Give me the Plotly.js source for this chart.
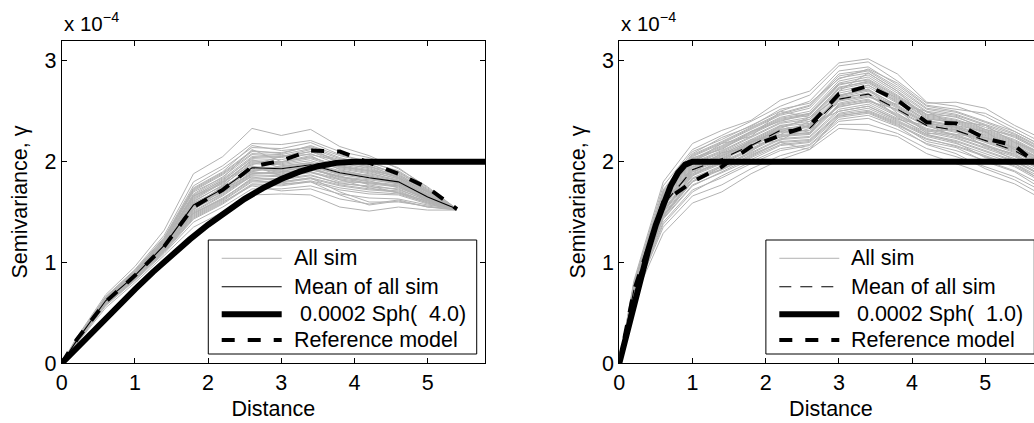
<!DOCTYPE html>
<html>
<head>
<meta charset="utf-8">
<script src="https://cdn.plot.ly/plotly-3.0.1.min.js"></script>
<style>
  html, body { margin: 0; padding: 0; background: #ffffff; overflow: hidden; }
  #chart { width: 1100px; height: 423px; }
</style>
</head>
<body>
<div id="chart"></div>
<script>
// ---------- DATA (semivariance values in units of 1e-4) ----------
const SCALE = 1e-4;

const lagsLeft  = [0, 0.2, 0.6, 1.0, 1.4, 1.8, 2.2, 2.6, 3.0, 3.4, 3.8, 4.2, 4.6, 5.0, 5.4];
const lagsRight = [0, 0.2, 0.6, 1.0, 1.4, 1.8, 2.2, 2.6, 3.0, 3.4, 3.8, 4.2, 4.6, 5.0, 5.4, 5.8];

// Left panel: all simulations
const simsLeft = [
  [0, .25, .68, .96, 1.32, 1.88, 2.05, 2.33, 2.26, 2.32, 2.15, 2.06, 1.93, 1.75, 1.53],
  [0, .24, .66, .93, 1.27, 1.80, 1.96, 2.18, 2.17, 2.21, 2.10, 2.04, 1.94, 1.74, 1.53],
  [0, .23, .65, .92, 1.25, 1.76, 1.93, 2.14, 2.13, 2.19, 2.07, 2.00, 1.90, 1.72, 1.52],
  [0, .23, .64, .90, 1.23, 1.72, 1.88, 2.10, 2.09, 2.15, 2.04, 1.97, 1.88, 1.70, 1.53],
  [0, .22, .64, .89, 1.21, 1.68, 1.85, 2.07, 2.05, 2.12, 2.00, 1.95, 1.86, 1.69, 1.52],
  [0, .22, .63, .89, 1.20, 1.65, 1.82, 2.03, 2.02, 2.08, 1.97, 1.92, 1.85, 1.68, 1.53],
  [0, .22, .63, .88, 1.19, 1.62, 1.79, 2.00, 1.99, 2.05, 1.95, 1.90, 1.83, 1.67, 1.52],
  [0, .22, .62, .88, 1.18, 1.60, 1.77, 1.98, 1.97, 2.01, 1.93, 1.88, 1.82, 1.66, 1.53],
  [0, .21, .62, .87, 1.17, 1.58, 1.74, 1.95, 1.94, 1.98, 1.90, 1.85, 1.80, 1.65, 1.52],
  [0, .21, .61, .86, 1.16, 1.55, 1.71, 1.92, 1.91, 1.95, 1.87, 1.83, 1.79, 1.64, 1.53],
  [0, .21, .61, .86, 1.15, 1.53, 1.69, 1.89, 1.88, 1.92, 1.85, 1.80, 1.77, 1.63, 1.52],
  [0, .21, .60, .85, 1.14, 1.50, 1.66, 1.86, 1.85, 1.89, 1.82, 1.78, 1.75, 1.62, 1.53],
  [0, .20, .60, .84, 1.13, 1.48, 1.63, 1.83, 1.82, 1.86, 1.79, 1.75, 1.73, 1.61, 1.52],
  [0, .20, .59, .84, 1.12, 1.46, 1.61, 1.80, 1.79, 1.83, 1.76, 1.72, 1.70, 1.60, 1.53],
  [0, .20, .58, .83, 1.10, 1.43, 1.58, 1.77, 1.76, 1.80, 1.72, 1.68, 1.67, 1.58, 1.52],
  [0, .20, .57, .82, 1.09, 1.40, 1.55, 1.73, 1.73, 1.76, 1.68, 1.64, 1.63, 1.57, 1.53],
  [0, .19, .55, .80, 1.07, 1.35, 1.50, 1.67, 1.68, 1.67, 1.55, 1.51, 1.55, 1.52, 1.52],
  [0, .23, .65, .90, 1.22, 1.70, 1.84, 2.12, 2.00, 2.06, 1.92, 1.86, 1.78, 1.66, 1.53],
  [0, .21, .63, .88, 1.18, 1.63, 1.80, 1.97, 2.05, 2.10, 2.02, 1.96, 1.84, 1.70, 1.52],
  [0, .22, .61, .86, 1.19, 1.54, 1.76, 1.90, 1.96, 1.99, 1.95, 1.91, 1.86, 1.71, 1.53],
  [0, .21, .60, .85, 1.15, 1.57, 1.70, 1.85, 1.80, 1.84, 1.70, 1.60, 1.60, 1.56, 1.52],
  [0, .22, .64, .88, 1.20, 1.66, 1.78, 2.02, 1.94, 1.95, 1.82, 1.74, 1.69, 1.61, 1.53],
  [0, .20, .59, .85, 1.14, 1.52, 1.72, 1.88, 1.90, 1.96, 1.88, 1.87, 1.81, 1.67, 1.52],
  [0, .21, .62, .87, 1.16, 1.59, 1.73, 1.96, 1.86, 1.90, 1.80, 1.79, 1.76, 1.63, 1.53],
  [0, .24, .66, .92, 1.24, 1.74, 1.90, 2.16, 2.11, 2.14, 1.98, 1.94, 1.84, 1.70, 1.52],
  [0, .20, .58, .83, 1.11, 1.45, 1.60, 1.76, 1.71, 1.73, 1.63, 1.58, 1.62, 1.55, 1.53],
  [0, .21, .60, .85, 1.13, 1.49, 1.64, 1.82, 1.78, 1.80, 1.67, 1.57, 1.61, 1.55, 1.52],
  [0, .22, .63, .89, 1.21, 1.67, 1.83, 2.05, 2.04, 2.10, 1.99, 1.93, 1.84, 1.68, 1.52],
  [0, .22, .62, .87, 1.17, 1.61, 1.76, 1.99, 1.98, 2.03, 1.94, 1.89, 1.81, 1.66, 1.53],
  [0, .21, .61, .86, 1.15, 1.56, 1.72, 1.93, 1.92, 1.96, 1.88, 1.84, 1.78, 1.64, 1.52],
  [0, .21, .60, .85, 1.13, 1.51, 1.67, 1.87, 1.86, 1.90, 1.83, 1.79, 1.76, 1.62, 1.53],
  [0, .20, .59, .84, 1.12, 1.47, 1.62, 1.81, 1.80, 1.84, 1.77, 1.73, 1.71, 1.60, 1.52],
  [0, .23, .64, .90, 1.22, 1.71, 1.87, 2.08, 2.07, 2.13, 2.03, 1.98, 1.87, 1.71, 1.53],
  [0, .22, .63, .88, 1.20, 1.64, 1.80, 2.01, 2.00, 2.04, 1.96, 1.91, 1.83, 1.67, 1.52],
  [0, .21, .61, .87, 1.16, 1.57, 1.75, 1.91, 1.95, 1.99, 1.91, 1.86, 1.80, 1.65, 1.53],
  [0, .22, .62, .86, 1.18, 1.59, 1.72, 1.94, 1.89, 1.93, 1.84, 1.81, 1.74, 1.63, 1.52],
  [0, .21, .60, .85, 1.14, 1.53, 1.68, 1.88, 1.90, 1.92, 1.86, 1.77, 1.72, 1.62, 1.53],
  [0, .20, .59, .84, 1.12, 1.49, 1.63, 1.84, 1.83, 1.87, 1.78, 1.76, 1.69, 1.59, 1.52],
  [0, .22, .64, .89, 1.21, 1.66, 1.81, 2.04, 2.06, 2.07, 2.01, 1.95, 1.89, 1.72, 1.53],
  [0, .23, .65, .91, 1.24, 1.73, 1.89, 2.11, 2.08, 2.16, 2.06, 1.99, 1.91, 1.73, 1.52],
  [0, .21, .61, .86, 1.16, 1.56, 1.70, 1.90, 1.87, 1.94, 1.85, 1.82, 1.78, 1.64, 1.53],
  [0, .20, .58, .83, 1.11, 1.44, 1.59, 1.78, 1.77, 1.81, 1.74, 1.70, 1.68, 1.59, 1.52]
];
const meanLeft = [0, .22, .62, .87, 1.17, 1.57, 1.73, 1.94, 1.93, 1.97, 1.89, 1.84, 1.80, 1.65, 1.53];
const refLeft  = [0, .23, .61, .87, 1.16, 1.55, 1.72, 1.95, 2.01, 2.11, 2.10, 1.99, 1.88, 1.74, 1.53];

// Left panel: fitted spherical model 0.0002 Sph(4.0)
const sphLeftX = [0, 0.25, 0.5, 0.75, 1.0, 1.25, 1.5, 1.75, 2.0, 2.25, 2.5, 2.75, 3.0, 3.25, 3.5, 3.75, 4.0, 5.8];
const sphLeftY = [0, .187, .373, .556, .734, .907, 1.072, 1.229, 1.375, 1.510, 1.631, 1.738, 1.828, 1.901, 1.955, 1.988, 2.0, 2.0];

// Right panel: all simulations
const simsRight = [
  [0, .82, 1.80, 2.18, 2.31, 2.41, 2.61, 2.70, 2.98, 3.02, 2.87, 2.59, 2.55, 2.45, 2.30, 2.15],
  [0, .80, 1.76, 2.12, 2.26, 2.40, 2.55, 2.66, 2.95, 2.99, 2.80, 2.58, 2.59, 2.53, 2.36, 2.22],
  [0, .79, 1.72, 2.10, 2.22, 2.36, 2.50, 2.60, 2.90, 2.94, 2.76, 2.55, 2.50, 2.40, 2.30, 2.15],
  [0, .78, 1.70, 2.06, 2.19, 2.33, 2.47, 2.55, 2.85, 2.90, 2.72, 2.52, 2.47, 2.37, 2.27, 2.12],
  [0, .77, 1.67, 2.03, 2.16, 2.30, 2.44, 2.50, 2.80, 2.86, 2.68, 2.49, 2.44, 2.34, 2.24, 2.09],
  [0, .76, 1.65, 2.01, 2.13, 2.27, 2.41, 2.46, 2.76, 2.82, 2.65, 2.46, 2.41, 2.31, 2.21, 2.06],
  [0, .75, 1.62, 1.98, 2.10, 2.24, 2.38, 2.42, 2.72, 2.78, 2.61, 2.43, 2.38, 2.28, 2.18, 2.03],
  [0, .74, 1.60, 1.96, 2.07, 2.21, 2.35, 2.38, 2.68, 2.74, 2.58, 2.40, 2.35, 2.25, 2.15, 2.00],
  [0, .73, 1.58, 1.93, 2.05, 2.18, 2.32, 2.35, 2.64, 2.70, 2.54, 2.38, 2.32, 2.22, 2.12, 1.97],
  [0, .72, 1.55, 1.90, 2.02, 2.15, 2.29, 2.31, 2.60, 2.65, 2.50, 2.35, 2.29, 2.19, 2.09, 1.94],
  [0, .71, 1.52, 1.87, 1.99, 2.12, 2.26, 2.28, 2.56, 2.61, 2.46, 2.32, 2.26, 2.16, 2.06, 1.91],
  [0, .70, 1.50, 1.84, 1.96, 2.09, 2.23, 2.25, 2.52, 2.57, 2.43, 2.29, 2.23, 2.13, 2.03, 1.88],
  [0, .69, 1.47, 1.81, 1.93, 2.06, 2.20, 2.22, 2.48, 2.53, 2.40, 2.26, 2.20, 2.10, 2.00, 1.85],
  [0, .68, 1.44, 1.77, 1.89, 2.02, 2.16, 2.19, 2.44, 2.48, 2.36, 2.22, 2.16, 2.06, 1.96, 1.81],
  [0, .67, 1.40, 1.72, 1.84, 1.98, 2.11, 2.16, 2.40, 2.43, 2.32, 2.18, 2.11, 2.01, 1.91, 1.76],
  [0, .66, 1.35, 1.66, 1.77, 1.93, 2.06, 2.14, 2.37, 2.37, 2.28, 2.13, 2.05, 1.95, 1.85, 1.70],
  [0, .64, 1.29, 1.59, 1.70, 1.88, 2.02, 2.12, 2.33, 2.31, 2.25, 2.08, 1.98, 1.88, 1.78, 1.62],
  [0, .77, 1.66, 2.00, 2.18, 2.25, 2.50, 2.44, 2.70, 2.88, 2.70, 2.42, 2.40, 2.36, 2.19, 2.08],
  [0, .72, 1.54, 1.95, 2.00, 2.20, 2.27, 2.40, 2.58, 2.64, 2.57, 2.50, 2.36, 2.30, 2.12, 1.99],
  [0, .74, 1.61, 1.88, 2.09, 2.14, 2.36, 2.29, 2.66, 2.72, 2.48, 2.30, 2.32, 2.15, 2.08, 1.90],
  [0, .70, 1.49, 1.90, 1.98, 2.22, 2.24, 2.33, 2.54, 2.60, 2.52, 2.28, 2.27, 2.24, 2.14, 2.02],
  [0, .68, 1.45, 1.80, 1.95, 2.10, 2.30, 2.27, 2.62, 2.68, 2.44, 2.27, 2.19, 2.04, 1.98, 1.80],
  [0, .75, 1.63, 2.04, 2.12, 2.30, 2.40, 2.48, 2.74, 2.79, 2.63, 2.47, 2.45, 2.32, 2.26, 2.10],
  [0, .71, 1.51, 1.86, 2.03, 2.17, 2.21, 2.37, 2.50, 2.55, 2.42, 2.36, 2.25, 2.17, 2.01, 1.86],
  [0, .69, 1.46, 1.83, 1.92, 2.07, 2.19, 2.12, 2.45, 2.50, 2.38, 2.20, 2.14, 2.00, 1.90, 1.72],
  [0, .78, 1.69, 2.08, 2.24, 2.35, 2.52, 2.58, 2.82, 2.92, 2.78, 2.56, 2.52, 2.48, 2.33, 2.18],
  [0, .73, 1.57, 1.92, 2.06, 2.19, 2.33, 2.44, 2.64, 2.76, 2.60, 2.41, 2.34, 2.27, 2.17, 2.01],
  [0, .66, 1.38, 1.70, 1.86, 2.00, 2.13, 2.17, 2.42, 2.46, 2.35, 2.17, 2.08, 1.93, 1.82, 1.66],
  [0, .76, 1.66, 2.02, 2.15, 2.29, 2.43, 2.48, 2.78, 2.84, 2.66, 2.47, 2.42, 2.32, 2.22, 2.07],
  [0, .74, 1.61, 1.97, 2.09, 2.22, 2.36, 2.40, 2.70, 2.76, 2.59, 2.41, 2.36, 2.26, 2.16, 2.01],
  [0, .73, 1.57, 1.92, 2.04, 2.17, 2.31, 2.34, 2.63, 2.68, 2.53, 2.37, 2.31, 2.21, 2.11, 1.96],
  [0, .71, 1.53, 1.88, 2.00, 2.13, 2.27, 2.29, 2.57, 2.62, 2.47, 2.33, 2.27, 2.17, 2.07, 1.92],
  [0, .70, 1.48, 1.83, 1.95, 2.08, 2.22, 2.24, 2.50, 2.55, 2.41, 2.27, 2.21, 2.11, 2.01, 1.86],
  [0, .77, 1.68, 2.05, 2.18, 2.32, 2.46, 2.53, 2.83, 2.88, 2.70, 2.50, 2.46, 2.36, 2.25, 2.10],
  [0, .75, 1.63, 1.99, 2.11, 2.25, 2.39, 2.44, 2.73, 2.80, 2.62, 2.44, 2.39, 2.29, 2.19, 2.04],
  [0, .72, 1.56, 1.91, 2.03, 2.16, 2.30, 2.36, 2.61, 2.66, 2.51, 2.36, 2.30, 2.20, 2.10, 1.95],
  [0, .69, 1.46, 1.80, 1.92, 2.05, 2.19, 2.21, 2.47, 2.51, 2.39, 2.25, 2.18, 2.08, 1.98, 1.83],
  [0, .74, 1.59, 1.94, 2.08, 2.20, 2.34, 2.42, 2.66, 2.71, 2.56, 2.39, 2.33, 2.24, 2.14, 1.99],
  [0, .78, 1.71, 2.07, 2.20, 2.34, 2.48, 2.56, 2.87, 2.91, 2.74, 2.53, 2.49, 2.39, 2.28, 2.13],
  [0, .71, 1.51, 1.86, 1.98, 2.11, 2.25, 2.27, 2.55, 2.59, 2.45, 2.31, 2.24, 2.14, 2.05, 1.90],
  [0, .73, 1.58, 1.95, 2.06, 2.19, 2.32, 2.37, 2.65, 2.72, 2.55, 2.38, 2.34, 2.23, 2.13, 1.98],
  [0, .68, 1.43, 1.76, 1.90, 2.04, 2.17, 2.20, 2.46, 2.49, 2.37, 2.23, 2.15, 2.05, 1.95, 1.79],
  [0, .76, 1.64, 2.00, 2.14, 2.28, 2.42, 2.47, 2.77, 2.81, 2.64, 2.45, 2.40, 2.30, 2.20, 2.05]
];
const meanRight = [0, .73, 1.57, 1.92, 2.03, 2.16, 2.31, 2.33, 2.62, 2.67, 2.52, 2.36, 2.31, 2.21, 2.11, 1.95];
const refRight  = [0, .72, 1.60, 1.80, 1.95, 2.15, 2.26, 2.36, 2.67, 2.75, 2.61, 2.39, 2.38, 2.23, 2.16, 1.92];

// Right panel: fitted spherical model 0.0002 Sph(1.0)
const sphRightX = [0, 0.1, 0.2, 0.3, 0.4, 0.5, 0.6, 0.7, 0.8, 0.9, 1.0, 5.8];
const sphRightY = [0, .299, .592, .873, 1.136, 1.375, 1.584, 1.757, 1.888, 1.971, 2.0, 2.0];

// Text
const yTickVals   = [0, 1, 2, 3];
const yTickLabels = ['0', '1', '2', '3'];
const legendLeft  = ['All sim', 'Mean of all sim', '\u00A00.0002 Sph(\u00A0\u00A04.0)', 'Reference model'];
const legendRight = ['All sim', 'Mean of all sim', '\u00A00.0002 Sph(\u00A0\u00A01.0)', 'Reference model'];
const xTitle = 'Distance';
const yTitle = 'Semivariance, \u03B3';
const expLabel = 'x 10<sup>\u22124</sup>';

// ---------- STYLE ----------
const FONT = 'Liberation Sans, Arial, Helvetica, sans-serif';
const GRAY = 'rgb(178,178,178)';
const FS = 21.5;
const W = 1100, H = 423;
// plot area in pixels
const AX_TOP = 40.7, AX_BOT = 363.3;
const L_LEFT = 61.7, L_RIGHT = 485.0;
const R_LEFT = 619.3, R_RIGHT = 1042.6;

const sc = arr => arr.map(v => v * SCALE);

function panelTraces(xa, ya, lags, sims, mean, meanDash, ref, sx, sy) {
  const t = [];
  sims.forEach(s => t.push({
    type: 'scatter', mode: 'lines', x: lags, y: sc(s), xaxis: xa, yaxis: ya,
    line: {color: GRAY, width: 1}, showlegend: false, hoverinfo: 'skip'
  }));
  t.push({type: 'scatter', mode: 'lines', x: lags, y: sc(mean), xaxis: xa, yaxis: ya,
    line: {color: '#000', width: 1.1, dash: meanDash}, showlegend: false});
  t.push({type: 'scatter', mode: 'lines', x: sx, y: sc(sy), xaxis: xa, yaxis: ya,
    line: {color: '#000', width: 6}, showlegend: false});
  t.push({type: 'scatter', mode: 'lines', x: lags, y: sc(ref), xaxis: xa, yaxis: ya,
    line: {color: '#000', width: 4, dash: '13px,13px'}, showlegend: false});
  return t;
}

const traces = [
  ...panelTraces('x', 'y', lagsLeft, simsLeft, meanLeft, 'solid', refLeft, sphLeftX, sphLeftY),
  ...panelTraces('x2', 'y2', lagsRight, simsRight, meanRight, '12px,9px', refRight, sphRightX, sphRightY)
];

function xAxis(left, right, anchor) {
  return {
    domain: [left / W, right / W], anchor: anchor,
    range: [0, 5.783], dtick: 1, tick0: 0,
    ticks: 'inside', ticklen: 5, tickwidth: 1, tickcolor: '#000',
    showline: true, linecolor: '#000', linewidth: 1, mirror: 'ticks',
    showgrid: false, zeroline: false,
    tickfont: {family: FONT, size: FS, color: '#000'},
    title: {text: xTitle, font: {family: FONT, size: FS, color: '#000'}, standoff: 6},
    fixedrange: true
  };
}
function yAxis(anchor) {
  return {
    domain: [(H - AX_BOT) / H, (H - AX_TOP) / H], anchor: anchor,
    range: [0, 3.2 * SCALE],
    tickvals: sc(yTickVals), ticktext: yTickLabels,
    ticks: 'inside', ticklen: 5, tickwidth: 1, tickcolor: '#000',
    showline: true, linecolor: '#000', linewidth: 1, mirror: 'ticks',
    showgrid: false, zeroline: false,
    tickfont: {family: FONT, size: FS, color: '#000'},
    title: {text: yTitle, font: {family: FONT, size: FS, color: '#000'}, standoff: 10},
    fixedrange: true
  };
}

// legend box (in axis-domain fractions)
const LG = {x0: 0.3463, x1: 0.9804, y0: 0.0288, y1: 0.3822,
            sx0: 0.378, sx1: 0.5197, tx: 0.5434,
            rows: [0.3255, 0.2374, 0.1519, 0.0722]};

function legendParts(xd, yd, labels, meanDash) {
  const shapes = [
    {type: 'rect', xref: xd, yref: yd, x0: LG.x0, x1: LG.x1, y0: LG.y0, y1: LG.y1,
     line: {color: '#000', width: 1}, fillcolor: '#fff', layer: 'above'}
  ];
  const styles = [
    {color: GRAY, width: 1},
    {color: '#000', width: 1.1, dash: meanDash},
    {color: '#000', width: 6},
    {color: '#000', width: 4, dash: '13px,13px'}
  ];
  styles.forEach((st, i) => shapes.push({
    type: 'line', xref: xd, yref: yd, x0: LG.sx0, x1: LG.sx1,
    y0: LG.rows[i], y1: LG.rows[i], line: st, layer: 'above'
  }));
  const anns = labels.map((txt, i) => ({
    xref: xd, yref: yd, x: LG.tx, y: LG.rows[i], xanchor: 'left', yanchor: 'middle',
    text: txt, showarrow: false, font: {family: FONT, size: FS, color: '#000'}
  }));
  return {shapes, anns};
}

const lgL = legendParts('x domain', 'y domain', legendLeft, 'solid');
const lgR = legendParts('x2 domain', 'y2 domain', legendRight, '12px,9px');

const expAnns = [
  {xref: 'x domain', yref: 'y domain', x: 0, y: 1, xanchor: 'left', yanchor: 'bottom', yshift: 4,
   text: expLabel, showarrow: false, font: {family: FONT, size: 20.5, color: '#000'}},
  {xref: 'x2 domain', yref: 'y2 domain', x: 0, y: 1, xanchor: 'left', yanchor: 'bottom', yshift: 4,
   text: expLabel, showarrow: false, font: {family: FONT, size: 20.5, color: '#000'}}
];

const layout = {
  width: W, height: H,
  margin: {l: 0, r: 0, t: 0, b: 0, pad: 0},
  paper_bgcolor: '#fff', plot_bgcolor: '#fff',
  showlegend: false,
  font: {family: FONT, size: FS, color: '#000'},
  xaxis: xAxis(L_LEFT, L_RIGHT, 'y'),
  yaxis: yAxis('x'),
  xaxis2: xAxis(R_LEFT, R_RIGHT, 'y2'),
  yaxis2: yAxis('x2'),
  shapes: [...lgL.shapes, ...lgR.shapes],
  annotations: [...lgL.anns, ...lgR.anns, ...expAnns]
};

Plotly.newPlot('chart', traces, layout, {staticPlot: true, displayModeBar: false});
</script>
</body>
</html>
